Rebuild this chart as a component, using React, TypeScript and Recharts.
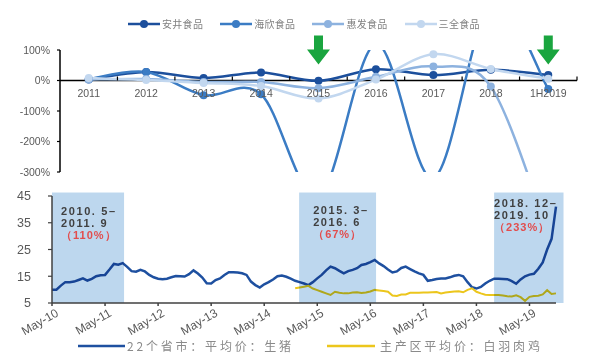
import React from 'react';
import {
  LineChart,
  Line,
  XAxis,
  YAxis,
  Legend,
  ReferenceLine,
  ReferenceDot,
  ReferenceArea,
} from 'recharts';

// ---- upper panel: yearly net profit growth of frozen-food makers ----
const years = ['2011', '2012', '2013', '2014', '2015', '2016', '2017', '2018', '1H2019'];
const anjingGrowth = [3, 28, 8, 26, -1, 37, 18, 35, 18];
const haixinGrowth = [5, 28, -48, -45, -380, 120, -320, 250, -28];
const huifaGrowth = [3, 5, -5, -5, -25, 12, 46, -20, -500];
const sanquanGrowth = [8, 2, -8, -18, -59, 3, 86, 38, 6];
const growthTicks = [-300, -200, -100, 0, 100];
const arrowYears = ['2015', '1H2019'];

// ---- lower panel: monthly prices, May 2010 onwards (yuan/kg) ----
const monthTickIdx = [0, 12, 24, 36, 48, 60, 72, 84, 96, 108];
const monthTickLabels = ['May-10', 'May-11', 'May-12', 'May-13', 'May-14', 'May-15', 'May-16', 'May-17', 'May-18', 'May-19'];
const pigPrice = [
  10.0, 10.0, 11.5, 12.8, 12.8, 13.0, 13.6, 14.2, 13.4, 14.0, 15.0, 15.4,
  15.5, 17.5, 19.6, 19.3, 19.9, 18.5, 16.9, 16.7, 17.4, 16.8, 15.5, 14.6,
  14.1, 13.9, 14.1, 14.6, 15.1, 15.0, 14.9, 15.8, 17.2, 16.0, 14.5, 12.4,
  12.3, 13.6, 14.2, 15.5, 16.5, 16.5, 16.4, 16.1, 15.5, 13.0, 11.7, 10.8,
  12.0, 12.8, 13.8, 15.0, 15.3, 14.8, 14.1, 13.3, 12.8, 12.3, 11.7, 12.8,
  14.2, 15.5, 17.2, 18.6, 18.0, 17.0, 16.1, 16.9, 17.4, 18.0, 19.2, 19.6,
  20.3, 21.1, 19.8, 18.8, 17.5, 16.4, 16.8, 18.1, 18.6, 17.7, 16.8, 16.1,
  15.5, 13.3, 13.6, 14.0, 14.2, 14.2, 14.6, 15.2, 15.5, 15.0, 12.8, 10.9,
  10.4, 11.0, 12.3, 13.3, 14.1, 14.1, 14.0, 13.9, 13.2, 12.2, 13.8, 15.0,
  15.6, 15.9, 17.8, 20.2, 25.0, 29.0, 41.0,
];
const broilerFirstMonth = 55;
const broilerPrice = [
  10.5, 10.8, 11.1, 11.4, 10.4, 9.8, 9.2, 8.6, 8.0, 9.2, 8.8, 8.6,
  8.6, 8.9, 9.0, 8.7, 8.9, 9.3, 9.9, 9.7, 9.5, 9.2, 7.8, 7.6,
  8.2, 8.2, 8.8, 8.8, 8.8, 8.9, 8.9, 9.0, 9.1, 8.6, 8.9, 9.1,
  9.3, 9.4, 9.0, 9.9, 10.5, 9.2, 8.6, 8.1, 8.0, 8.0, 8.0, 7.8,
  7.5, 7.4, 7.9, 7.2, 5.8, 7.3, 7.6, 7.7, 8.2, 9.8, 8.4, 8.6,
];
const priceTicks = [5, 10, 15, 20, 25, 30, 35, 40, 45];

// pig price up-cycles (month index bounds) and their captions
const cycleFrom = [0, 55.9, 100];
const cycleTo = [16.3, 73.3, 115.7];
const cyclePeriod = [
  ['2010. 5–', '2011. 9'],
  ['2015. 3–', '2016. 6'],
  ['2018. 12–', '2019. 10'],
];
const cycleRise = ['（110%）', '（67%）', '（233%）'];
const cycleTextDx = [9, 14, 0];
const cycleTextDy = [22, 21, 14];

const W = 590;
const TOP_H = 180;
const BOTTOM_H = 174;
const TOP_MARGIN = { top: 50, right: 13, bottom: 7, left: 0 };
const TOP_Y_AXIS_W = 60;
const TOP_PLOT_H = TOP_H - TOP_MARGIN.top - TOP_MARGIN.bottom - 1;
const TOP_PLOT_W = W - TOP_Y_AXIS_W - TOP_MARGIN.right;
const YEAR_BAND = TOP_PLOT_W / years.length;
const ZERO_Y = TOP_MARGIN.top + (TOP_PLOT_H * growthTicks[growthTicks.length - 1]) / (growthTicks[growthTicks.length - 1] - growthTicks[0]);

const SANS = '"Liberation Sans", Arial, sans-serif';
const CJK = '"Noto Sans CJK SC", sans-serif';

const topSeries = [
  { key: 'anjing', name: '安井食品', color: '#1c4f9c', values: anjingGrowth },
  { key: 'haixin', name: '海欣食品', color: '#3b7cc4', values: haixinGrowth },
  { key: 'huifa', name: '惠发食品', color: '#8db2df', values: huifaGrowth },
  { key: 'sanquan', name: '三全食品', color: '#c2d7ef', values: sanquanGrowth },
];

const growthRows = years.map((year, i) => {
  const row: Record<string, string | number> = { year };
  topSeries.forEach((s) => {
    row[s.key] = s.values[i];
  });
  return row;
});

const priceRows = pigPrice.map((pig, m) => ({
  m,
  pig,
  broiler: m >= broilerFirstMonth ? broilerPrice[m - broilerFirstMonth] ?? null : null,
}));

// Catmull-Rom style smoothing, close to the spreadsheet "smoothed line" look
const smoothCurve = (context: any) => {
  let pts: number[][] = [];
  return {
    areaStart() {},
    areaEnd() {},
    lineStart() {
      pts = [];
    },
    lineEnd() {
      if (!pts.length) return;
      context.moveTo(pts[0][0], pts[0][1]);
      for (let i = 0; i < pts.length - 1; i++) {
        const p0 = pts[i - 1] || pts[i];
        const p1 = pts[i];
        const p2 = pts[i + 1];
        const p3 = pts[i + 2] || p2;
        context.bezierCurveTo(
          p1[0] + (p2[0] - p0[0]) / 6,
          p1[1] + (p2[1] - p0[1]) / 6,
          p2[0] - (p3[0] - p1[0]) / 6,
          p2[1] - (p3[1] - p1[1]) / 6,
          p2[0],
          p2[1],
        );
      }
    },
    point(x: number, y: number) {
      pts.push([+x, +y]);
    },
  };
};

const YearTick = (props: any) => {
  const { x, payload } = props;
  return (
    <g>
      <line x1={x + YEAR_BAND / 2} x2={x + YEAR_BAND / 2} y1={ZERO_Y} y2={ZERO_Y - 4} stroke="#000" strokeWidth={1.2} />
      <text x={x} y={ZERO_Y + 16} textAnchor="middle" fontSize={10.5} fill="#595959" fontFamily={SANS}>
        {payload.value}
      </text>
    </g>
  );
};

const DownArrow = (props: any) => {
  const { cx, cy } = props;
  const d = [
    `M${cx - 4.5},${cy - 45}`,
    `L${cx + 4.5},${cy - 45}`,
    `L${cx + 4.5},${cy - 31}`,
    `L${cx + 11.5},${cy - 31}`,
    `L${cx},${cy - 16}`,
    `L${cx - 11.5},${cy - 31}`,
    `L${cx - 4.5},${cy - 31}`,
    'Z',
  ].join(' ');
  return <path d={d} fill="#1aa53f" />;
};

const GrowthLegend = () => (
  <div style={{ display: 'flex', alignItems: 'center', marginLeft: 128 }}>
    {topSeries.map((s, i) => (
      <div key={s.key} style={{ display: 'flex', alignItems: 'center', marginLeft: i ? 17 : 0 }}>
        <svg width={32} height={10}>
          <line x1={0} x2={32} y1={5} y2={5} stroke={s.color} strokeWidth={2.5} />
          <circle cx={16} cy={5} r={4} fill={s.color} />
        </svg>
        <span style={{ marginLeft: 2, fontSize: 10, lineHeight: '14px', color: '#808080', fontFamily: CJK, letterSpacing: 0.3 }}>
          {s.name}
        </span>
      </div>
    ))}
  </div>
);

const MonthTick = (props: any) => {
  const { x, y, payload } = props;
  const label = monthTickLabels[monthTickIdx.indexOf(payload.value)];
  return (
    <g transform={`translate(${x + 3},${y})`}>
      <text transform="rotate(-30)" textAnchor="end" dy="0.71em" fontSize={12} fill="#595959" fontFamily={SANS}>
        {label}
      </text>
    </g>
  );
};

const legendText = { fontSize: 12, lineHeight: '14px', color: '#8a8a8a', fontFamily: CJK, letterSpacing: 2.8 };

const PriceLegend = () => (
  <div style={{ display: 'flex', alignItems: 'center', marginLeft: 78 }}>
    <svg width={47} height={6}>
      <line x1={0} x2={47} y1={3} y2={3} stroke="#1e50a0" strokeWidth={2.5} />
    </svg>
    <span style={{ ...legendText, marginLeft: 2 }}>22个省市：平均价：生猪</span>
    <svg width={48} height={6} style={{ marginLeft: 33 }}>
      <line x1={0} x2={48} y1={3} y2={3} stroke="#ecc61c" strokeWidth={2.5} />
    </svg>
    <span style={{ ...legendText, marginLeft: 5 }}>主产区平均价：白羽肉鸡</span>
  </div>
);

const CycleLabel = ({ viewBox, i }: any) => {
  const x = viewBox.x + cycleTextDx[i];
  const y = viewBox.y + cycleTextDy[i];
  return (
    <g fontFamily={SANS} fontSize={11} fontWeight="bold" letterSpacing={1.6}>
      <text x={x} y={y} fill="#404040">{cyclePeriod[i][0]}</text>
      <text x={x} y={y + 12} fill="#404040">{cyclePeriod[i][1]}</text>
      <text x={x} y={y + 24} fill="#e24d4d" fontWeight={600} letterSpacing={1}>{cycleRise[i]}</text>
    </g>
  );
};

export default function App() {
  return (
    <div style={{ position: 'absolute', left: 0, top: 0, width: W, height: TOP_H + BOTTOM_H, background: '#fff' }}>
      <LineChart width={W} height={TOP_H} data={growthRows} margin={TOP_MARGIN}>
        <Legend
          layout="horizontal"
          verticalAlign="middle"
          wrapperStyle={{ top: 17, left: 0, width: W }}
          content={() => <GrowthLegend />}
        />
        <YAxis
          type="number"
          domain={[growthTicks[0], growthTicks[growthTicks.length - 1]]}
          ticks={growthTicks}
          allowDataOverflow
          width={TOP_Y_AXIS_W}
          tickFormatter={(v) => `${v}%`}
          axisLine={{ stroke: '#000', strokeWidth: 1.5 }}
          tickLine={{ stroke: '#000', strokeWidth: 1.2 }}
          tickSize={3}
          tickMargin={7}
          tick={{ fontSize: 10.5, fill: '#595959', fontFamily: SANS }}
        />
        <XAxis
          dataKey="year"
          height={1}
          axisLine={false}
          tickLine={false}
          tick={<YearTick />}
          interval={0}
          padding={{ left: YEAR_BAND / 2, right: YEAR_BAND / 2 }}
        />
        <ReferenceLine y={0} stroke="#000" strokeWidth={1.5} />
        {topSeries.map((s) => (
          <Line
            key={s.key}
            dataKey={s.key}
            name={s.name}
            type={smoothCurve as any}
            stroke={s.color}
            strokeWidth={2.5}
            dot={{ r: 4, fill: s.color, stroke: s.color, strokeWidth: 0 }}
            activeDot={false}
            isAnimationActive={false}
          />
        ))}
        {arrowYears.map((yr) => (
          <ReferenceDot key={yr} x={yr} y={0} r={0} ifOverflow="visible" shape={<DownArrow />} />
        ))}
      </LineChart>

      <LineChart width={W} height={BOTTOM_H} data={priceRows} margin={{ top: 16, right: 34, bottom: 0, left: 0 }}>
        <Legend
          layout="horizontal"
          verticalAlign="middle"
          wrapperStyle={{ top: 159, left: 0, width: W }}
          content={() => <PriceLegend />}
        />
        <XAxis
          type="number"
          dataKey="m"
          domain={[0, pigPrice.length - 1]}
          ticks={monthTickIdx}
          height={51}
          axisLine={{ stroke: '#404040', strokeWidth: 1.5 }}
          tickLine={{ stroke: '#404040', strokeWidth: 1.5 }}
          tickSize={3}
          tick={<MonthTick />}
          interval={0}
        />
        <YAxis
          type="number"
          domain={[priceTicks[0], priceTicks[priceTicks.length - 1]]}
          ticks={priceTicks}
          width={52}
          axisLine={{ stroke: '#404040', strokeWidth: 1.5 }}
          tickLine={{ stroke: '#404040', strokeWidth: 1.2 }}
          tickSize={4}
          tickMargin={17}
          tick={{ fontSize: 12.5, fill: '#595959', fontFamily: SANS }}
        />
        <Line
          dataKey="pig"
          name="22个省市：平均价：生猪"
          type="linear"
          stroke="#1e50a0"
          strokeWidth={2.5}
          dot={false}
          activeDot={false}
          isAnimationActive={false}
        />
        <Line
          dataKey="broiler"
          name="主产区平均价：白羽肉鸡"
          type="linear"
          stroke="#ecc61c"
          strokeWidth={2}
          dot={false}
          activeDot={false}
          isAnimationActive={false}
        />
        {cycleFrom.map((from, i) => (
          <ReferenceArea
            key={i}
            x1={from}
            x2={cycleTo[i]}
            y1={priceTicks[0]}
            y2={46.3}
            ifOverflow="visible"
            zIndex={450}
            shape={(p: any) => (
              <rect x={p.x} y={p.y} width={p.width} height={p.height} fill="#bdd7ee" style={{ mixBlendMode: 'multiply' }} />
            )}
            label={(lp: any) => <CycleLabel viewBox={lp.viewBox} i={i} />}
          />
        ))}
      </LineChart>
    </div>
  );
}
